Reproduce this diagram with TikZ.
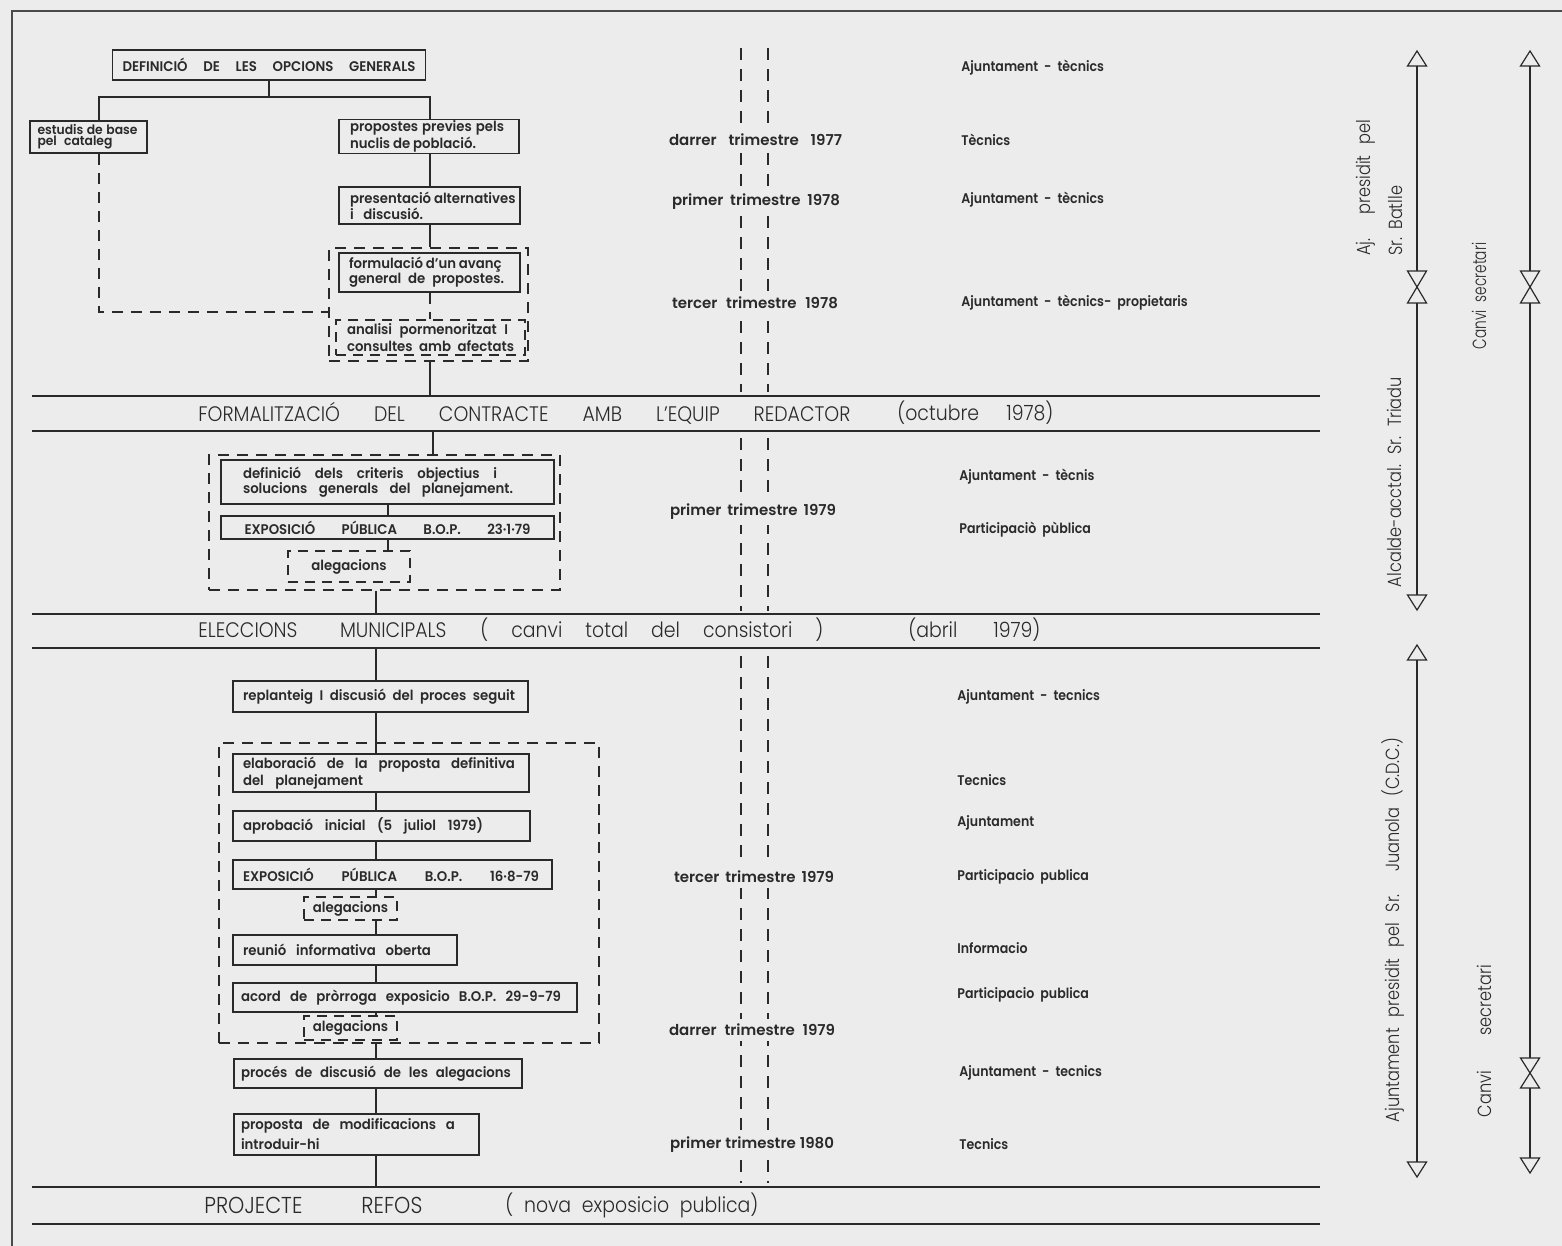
\documentclass[tikz,border=0pt]{standalone}
\usepackage{fontspec}
\IfFontExistsTF{Poppins SemiBold}{\def\fBox{Poppins SemiBold}}{\IfFontExistsTF{Poppins Medium}{\def\fBox{Poppins Medium}}{\def\fBox{Poppins}}}
\IfFontExistsTF{Poppins Light}{\def\fLit{Poppins Light}}{\def\fLit{Poppins}}
\newfontfamily\boxfont{\fBox}[FakeStretch=0.95]
\newfontfamily\labfont{\fBox}[FakeStretch=0.9,WordSpace=2]
\newfontfamily\timfont{\fBox}
\newfontfamily\litefont{\fLit}[FakeStretch=0.9]
\newfontfamily\sidefont{\fLit}[FakeStretch=0.85]
\newfontfamily\narfont{\fLit}[FakeStretch=0.72]
\newcommand\bxf[1]{\boxfont\fontsize{7}{#1}\selectfont}
\newcommand\lbf{\labfont\fontsize{7}{8}\selectfont}
\newcommand\tmf{\timfont\fontsize{7.5}{8}\selectfont}
\newcommand\rlf{\litefont\fontsize{10.5}{12}\selectfont}
\newcommand\sdf{\sidefont\fontsize{9.5}{10}\selectfont}
\newcommand\SP[2]{{\spaceskip=0.3em plus 1fil minus 0.1em\relax\makebox[#1][s]{#2}}}
\definecolor{bg}{RGB}{236,236,236}
\definecolor{ink}{RGB}{42,42,42}
\tikzset{
 ln/.style={draw=ink, line width=0.9pt},
 dsh/.style={draw=ink, line width=0.9pt, dash pattern=on 5.5pt off 4pt},
 tl/.style={draw=ink, line width=0.9pt, dash pattern=on 6pt off 4.5pt},
 bx/.style={draw=ink, line width=0.9pt, inner xsep=5pt, inner ysep=0.5pt, font=\bxf{7.5}, text=ink, align=left},
 dbx/.style={bx, dash pattern=on 5pt off 3.5pt},
 grp/.style={draw=ink, line width=0.9pt, dash pattern=on 5.5pt off 4pt, inner sep=0pt},
 tlab/.style={font=\tmf, text=ink, fill=bg, inner xsep=1pt, inner ysep=2.5pt},
 alab/.style={font=\lbf, text=ink, anchor=west, inner sep=0pt},
 rtx/.style={font=\rlf, text=ink, anchor=west, inner sep=0pt},
 stx/.style={font=\sdf, text=ink, rotate=90, inner sep=0pt},
 rl/.style={draw=ink, line width=0.8pt},
 sl/.style={draw=ink, line width=0.6pt},
}
\begin{document}
\begin{tikzpicture}[x=0.5pt,y=-0.5pt]
\useasboundingbox (0,0) rectangle (1562,1246);
\fill[bg] (0,0) rectangle (1562,1246);
\draw[line width=1.3pt, draw=ink!85] (12,1246) -- (12,11) -- (1562,11);

% ---------- horizontal rules ----------
\coordinate (r1a) at (32,396);  \coordinate (r1b) at (1320,396);
\coordinate (r2a) at (32,431);  \coordinate (r2b) at (1320,431);
\coordinate (r3a) at (32,614);  \coordinate (r3b) at (1320,614);
\coordinate (r4a) at (32,648);  \coordinate (r4b) at (1320,648);
\coordinate (r5a) at (32,1187); \coordinate (r5b) at (1320,1187);
\coordinate (r6a) at (32,1224); \coordinate (r6b) at (1320,1224);
\foreach \a/\b in {r1a/r1b,r2a/r2b,r3a/r3b,r4a/r4b,r5a/r5b,r6a/r6b}
  \draw[rl] (\a) -- (\b);

\node[rtx] (f1) at (198,413) {\SP{326pt}{FORMALITZACIÓ DEL CONTRACTE AMB L’EQUIP REDACTOR}};
\node[rtx] (f2) at (897,413) {\SP{78pt}{(octubre 1978)}};
\node[rtx] (e1) at (198,630) {\SP{124pt}{ELECCIONS MUNICIPALS}};
\node[rtx] (e2) at (480,630) {\SP{171.5pt}{( canvi total del consistori )}};
\node[rtx] (e3) at (908,630) {\SP{66pt}{(abril 1979)}};
\node[rtx, font=\litefont\fontsize{11.5}{12}\selectfont] (p1) at (204,1205) {\SP{109pt}{PROJECTE REFOS}};
\node[rtx] (p2) at (505,1205) {\SP{126.5pt}{( nova exposicio publica)}};

% ---------- timeline dashed lines ----------
\coordinate (ta1) at (741,48);  \coordinate (ta2) at (741,392);
\coordinate (tb1) at (768,48);  \coordinate (tb2) at (768,392);
\coordinate (ta3) at (741,438); \coordinate (ta4) at (741,611);
\coordinate (tb3) at (768,438); \coordinate (tb4) at (768,611);
\coordinate (ta5) at (741,656); \coordinate (ta6) at (741,1183);
\coordinate (tb5) at (768,656); \coordinate (tb6) at (768,1183);
\foreach \a/\b in {ta1/ta2,tb1/tb2,ta3/ta4,tb3/tb4,ta5/ta6,tb5/tb6}
  \draw[tl] (\a) -- (\b);

\node[tlab] (q1) at (755.5,140) {\SP{86.5pt}{darrer trimestre 1977}};
\node[tlab] (q2) at (756,202) {\SP{84pt}{primer trimestre 1978}};
\node[tlab] (q3) at (755,303) {\SP{83pt}{tercer trimestre 1978}};
\node[tlab] (q4) at (753,512) {\SP{83pt}{primer trimestre 1979}};
\node[tlab] (q5) at (754,877) {\SP{80pt}{tercer trimestre 1979}};
\node[tlab] (q6) at (752,1030) {\SP{83pt}{darrer trimestre 1979}};
\node[tlab] (q7) at (752,1145) {\SP{82pt}{primer trimestre 1980}};

% ---------- actors ----------
\node[alab] (a1) at (961,68) {Ajuntament - tècnics};
\node[alab] (a2) at (961,140) {Tècnics};
\node[alab] (a3) at (961,200) {Ajuntament - tècnics};
\node[alab] (a4) at (961,303) {Ajuntament - tècnics- propietaris};
\node[alab] (a5) at (959,477) {Ajuntament - tècnis};
\node[alab] (a6) at (959,530) {Participaciò pùblica};
\node[alab] (a7) at (957,697) {Ajuntament - tecnics};
\node[alab] (a8) at (957,780) {Tecnics};
\node[alab] (a9) at (957,823) {Ajuntament};
\node[alab] (a10) at (957,877) {Participacio publica};
\node[alab] (a11) at (957,948) {Informacio};
\node[alab] (a12) at (957,995) {Participacio publica};
\node[alab] (a13) at (959,1073) {Ajuntament - tecnics};
\node[alab] (a14) at (959,1144) {Tecnics};

% ---------- top section ----------
\node[bx, align=center, minimum width=155pt, minimum height=15pt] (def) at (269,65) {\SP{146.5pt}{DEFINICIÓ DE LES OPCIONS GENERALS}};
\node[bx, font={\boxfont\fontsize{6.5}{5.5}\selectfont}, inner xsep=3.75pt, text width=51pt, minimum height=16pt] (est) at (88.5,137) {\SP{50pt}{estudis de base}\\\SP{37.5pt}{pel cataleg}};
\node[bx, font=\bxf{5.5}, inner xsep=5.5pt, text width=79pt, minimum height=15.5pt] (prop) at (429,136.5) {\SP{77pt}{propostes previes pels}\\\SP{63pt}{nuclis de població.}};
\node[bx, font=\bxf{8}, inner xsep=5.5pt, text width=79.5pt, minimum height=18.5pt] (pres) at (429.5,205.5) {\SP{79.5pt}{presentació alternatives}\\\SP{36.5pt}{i discusió.}};
\node[grp, minimum width=99.5pt, minimum height=56.5pt] (outA) at (428.5,304.5) {};
\node[bx, font=\bxf{7.5}, inner xsep=5pt, text width=80.5pt, minimum height=19.5pt] (form) at (429.5,272.5) {\SP{75.5pt}{formulació d’un avanç}\\\SP{77.5pt}{general de propostes.}};
\node[dbx, font=\bxf{6}, inner xsep=5.5pt, text width=83.5pt, minimum height=17.5pt] (anal) at (430.5,337.5) {\SP{80.5pt}{analisi pormenoritzat I}\\\SP{83.5pt}{consultes amb afectats}};

\coordinate (jl) at (99,97);
\coordinate (jr) at (430,97);
\coordinate (dj) at (99,312);
\draw[ln] (def.south) -- (def.south |- jl);
\draw[ln] (est.north -| jl) -- (jl) -- (jr) -- (prop.north -| jr);
\draw[ln] (prop.south -| jr) -- (pres.north -| jr);
\draw[ln] (pres.south -| jr) -- (outA.north -| jr);
\draw[dsh] (form.south -| jr) -- (anal.north -| jr);
\draw[dsh] (est.south -| dj) -- (dj) -- (dj -| outA.west);
\draw[ln] (outA.south -| jr) -- (jr |- r1a);

% ---------- middle section ----------
\node[grp, minimum width=175.5pt, minimum height=67.5pt] (outB) at (384.5,522.5) {};
\node[bx, font=\bxf{7.5}, inner xsep=11pt, text width=144.5pt, minimum height=22pt] (defi) at (387.5,482) {\SP{127pt}{definició dels criteris objectius i}\\\SP{135pt}{solucions generals del planejament.}};
\node[bx, align=center, inner xsep=10pt, text width=146.5pt, minimum height=11.5pt] (expo1) at (387.5,527.5) {\SP{143pt}{EXPOSICIÓ PÚBLICA B.O.P. 23·1·79}};
\node[dbx, align=center, minimum width=61pt, minimum height=15.5pt] (aleg1) at (349,566.5) {alegacions};
\coordinate (m1) at (433,0);
\coordinate (m2) at (388,0);
\coordinate (m3) at (376,0);
\draw[ln] (r2a -| m1) -- (outB.north -| m1);
\draw[ln] (defi.south -| m2) -- (expo1.north -| m2);
\draw[dsh] (expo1.south -| m2) -- (aleg1.north -| m2);
\draw[ln] (outB.south -| m3) -- (r3a -| m3);

% ---------- bottom section ----------
\node[grp, minimum width=190pt, minimum height=150pt] (outC) at (409,893) {};
\node[bx, text width=137.5pt, minimum height=15.5pt] (repl) at (380.5,696.5) {\SP{136pt}{replanteig I discusió del proces seguit}};
\node[bx, font=\bxf{7}, text width=138pt, minimum height=19pt] (elab) at (381,773) {\SP{136pt}{elaboració de la proposta definitiva}\\\SP{60pt}{del planejament}};
\node[bx, text width=138.5pt, minimum height=15pt] (aprob) at (381.5,826) {\SP{120pt}{aprobació inicial (5 juliol 1979)}};
\node[bx, text width=149.5pt, minimum height=14.5pt] (expo2) at (392.5,874.5) {\SP{148pt}{EXPOSICIÓ PÚBLICA B.O.P. 16·8-79}};
\node[dbx, align=center, inner xsep=1pt, minimum width=46.5pt, minimum height=11.5pt] (aleg2) at (350.5,908.5) {alegacions};
\node[bx, text width=102pt, minimum height=15pt] (reun) at (345,950) {\SP{94pt}{reunió informativa oberta}};
\node[bx, inner xsep=4pt, text width=164pt, minimum height=14.5pt] (acord) at (405,997.5) {\SP{160pt}{acord de pròrroga exposicio B.O.P. 29-9-79}};
\node[dbx, align=center, inner xsep=1pt, minimum width=46.5pt, minimum height=12pt] (aleg3) at (350.5,1028) {alegacions};
\node[bx, inner xsep=3.5pt, text width=137pt, minimum height=14.5pt] (proc) at (378,1073.5) {\SP{135pt}{procés de discusió de les alegacions}};
\node[bx, font=\bxf{10}, inner xsep=3.5pt, text width=115.5pt, minimum height=20.5pt] (propm) at (356.5,1134.5) {\SP{107pt}{proposta de modificacions a}\\\SP{43pt}{introduir-hi}};

\coordinate (sp) at (376,0);
\draw[ln] (r4a -| sp) -- (repl.north -| sp);
\draw[ln] (repl.south -| sp) -- (elab.north -| sp);
\draw[ln] (elab.south -| sp) -- (aprob.north -| sp);
\draw[ln] (aprob.south -| sp) -- (expo2.north -| sp);
\draw[ln] (expo2.south -| sp) -- (aleg2.north -| sp);
\draw[ln] (aleg2.south -| sp) -- (reun.north -| sp);
\draw[ln] (reun.south -| sp) -- (acord.north -| sp);
\draw[ln] (acord.south -| sp) -- (aleg3.north -| sp);
\draw[ln] (outC.south -| sp) -- (proc.north -| sp);
\draw[ln] (proc.south -| sp) -- (propm.north -| sp);
\draw[ln] (propm.south -| sp) -- (r5a -| sp);

% ---------- right side timelines ----------
% column A
\draw[sl] (1417,51) -- (1426.5,66) -- (1407.5,66) -- cycle;
\draw[sl] (1407.5,271) -- (1426.5,271) -- (1407.5,303) -- (1426.5,303) -- cycle;
\draw[sl] (1407.5,595) -- (1426.5,595) -- (1417,610) -- cycle;
\draw[sl] (1417,66) -- (1417,271);
\draw[sl] (1417,303) -- (1417,595);
\draw[sl] (1417,645) -- (1426.5,660) -- (1407.5,660) -- cycle;
\draw[sl] (1417,660) -- (1417,1162);
\draw[sl] (1407.5,1162) -- (1426.5,1162) -- (1417,1177) -- cycle;
% column B
\draw[sl] (1530,51) -- (1539.5,66) -- (1520.5,66) -- cycle;
\draw[sl] (1530,66) -- (1530,271);
\draw[sl] (1520.5,271) -- (1539.5,271) -- (1520.5,303) -- (1539.5,303) -- cycle;
\draw[sl] (1530,303) -- (1530,1058);
\draw[sl] (1520.5,1058) -- (1539.5,1058) -- (1520.5,1088) -- (1539.5,1088) -- cycle;
\draw[sl] (1530,1088) -- (1530,1158);
\draw[sl] (1520.5,1158) -- (1539.5,1158) -- (1530,1173) -- cycle;

\node[stx, anchor=west] (s1) at (1366,256) {\SP{68pt}{Aj. presidit pel}};
\node[stx, anchor=west] (s2) at (1396,256) {Sr.\hspace{4pt}Batlle};
\node[stx] (s3) at (1394,482) {\SP{105pt}{Alcalde-acctal. Sr. Triadu}};
\node[stx] (s4) at (1393,930) {\SP{192pt}{Ajuntament presidit pel Sr. Juanola (C.D.C.)}};
\node[stx, font=\narfont\fontsize{9.5}{10}\selectfont] (s5) at (1479,296) {Canvi\hspace{4pt}secretari};
\node[stx] (s6) at (1484,1041) {\SP{76pt}{Canvi secretari}};
\end{tikzpicture}
\end{document}
